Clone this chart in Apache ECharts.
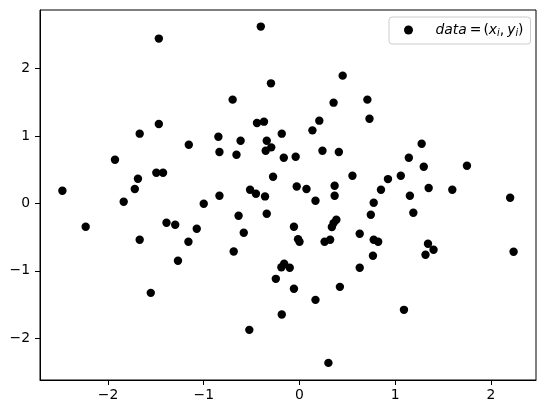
<!DOCTYPE html>
<html>
<head>
<meta charset="utf-8">
<script src="https://cdn.jsdelivr.net/npm/echarts@6/dist/echarts.min.js"></script>
<style>
html,body{margin:0;padding:0;background:#fff;}
#chart{width:546px;height:413px;}
</style>
</head>
<body>
<div id="chart"></div>
<script>
const xValues = [-2.476,-2.233,-1.927,-1.836,-1.72,-1.687,-1.669,-1.669,-1.553,-1.469,
  -1.469,-1.495,-1.425,-1.389,-1.298,-1.269,-1.156,-1.16,-1.073,-1.0,
  -0.847,-0.836,-0.836,-0.698,-0.658,-0.615,-0.636,-0.582,-0.687,-0.516,
  -0.455,-0.524,-0.444,-0.371,-0.404,-0.342,-0.353,-0.295,-0.298,-0.36,
  -0.342,-0.276,-0.185,-0.164,-0.247,-0.189,-0.16,-0.102,-0.185,-0.058,
  -0.04,-0.029,-0.015,0.0,-0.058,0.073,0.135,0.207,0.167,0.167,
  0.24,0.262,0.32,0.302,0.356,0.451,0.411,0.367,0.367,0.385,
  0.356,0.338,0.422,0.553,0.629,0.629,0.709,0.731,0.745,0.775,
  0.775,0.822,0.767,0.851,0.924,1.058,1.142,1.153,1.189,1.091,
  1.276,1.298,1.349,1.342,1.4,1.316,1.596,1.749,2.2,2.236];
const yValues = [0.188,-0.347,0.649,0.025,0.213,0.366,1.035,-0.54,-1.327,2.446,
  1.178,0.455,0.455,-0.287,-0.317,-0.851,0.871,-0.569,-0.376,-0.005,
  0.99,0.762,0.114,1.54,0.723,0.931,-0.183,-0.436,-0.713,0.203,
  0.144,-1.876,1.193,1.213,2.624,0.931,0.782,0.832,1.782,0.104,
  -0.153,0.396,1.035,0.678,-1.119,-0.946,-0.896,-0.955,-1.649,-0.347,
  0.693,0.252,-0.53,-0.569,-1.267,0.213,1.084,1.228,0.04,-1.431,
  0.782,-0.569,-0.54,-2.366,1.495,1.896,0.762,0.262,0.114,-0.243,
  -0.292,-0.351,-1.238,0.411,-0.45,-0.955,1.54,1.257,-0.168,0.01,
  -0.54,-0.569,-0.777,0.203,0.361,0.411,0.678,0.114,-0.139,-1.579,
  0.886,0.545,0.228,-0.599,-0.688,-0.762,0.203,0.559,0.084,-0.718];
const xTicks = [-2,-1,0,1,2];
const yTicks = [-2,-1,0,1,2];
const seriesName = 'data';

const points = xValues.map((x,i)=>[x,yValues[i]]);
const fmt = v => String(v).replace('-','\u2212');
const FONT = 'DejaVu Sans';

function axisCommon(ticks){
  return {
    type:'value',
    axisLine:{show:true,onZero:false,lineStyle:{color:'#000',width:1}},
    splitLine:{show:false},
    axisTick:{show:true,length:5,lineStyle:{color:'#000',width:1},customValues:ticks},
    axisLabel:{customValues:ticks,formatter:fmt,color:'#000',fontSize:13.9,fontFamily:FONT}
  };
}
const xAxis = axisCommon(xTicks);
xAxis.min = -2.71; xAxis.max = 2.47; xAxis.axisLabel.margin = 8;
const yAxis = axisCommon(yTicks);
yAxis.min = -2.62; yAxis.max = 2.87; yAxis.axisLabel.margin = 10;

const chart = echarts.init(document.getElementById('chart'));
chart.setOption({
  animation:false,
  backgroundColor:'#fff',
  grid:{left:40,right:10,top:10,bottom:33,show:true,borderColor:'#000',borderWidth:1,backgroundColor:'transparent'},
  xAxis:xAxis,
  yAxis:yAxis,
  legend:{
    left:389,top:17,
    padding:[6,7,6,15],
    itemWidth:20,itemHeight:9,
    icon:'circle',
    borderColor:'#cccccc',borderWidth:1,borderRadius:3,
    backgroundColor:'rgba(255,255,255,0.8)',
    formatter:function(){return '{it|data}{eq|=}({it|x}{sub|i},{it2|y}{sub|i})';},
    textStyle:{
      fontFamily:FONT,fontSize:13.9,color:'#000',padding:[0,0,0,12],
      rich:{
        it:{fontFamily:FONT,fontSize:13.9,fontStyle:'italic',color:'#000'},
        it2:{fontFamily:FONT,fontSize:13.9,fontStyle:'italic',color:'#000',padding:[0,0,0,3]},
        eq:{fontFamily:FONT,fontSize:13.9,color:'#000',padding:[0,2,0,3]},
        sub:{fontFamily:FONT,fontSize:9.7,fontStyle:'italic',color:'#000',padding:[6,0,0,0]}
      }
    },
    data:[seriesName]
  },
  series:[{
    name:seriesName,
    type:'scatter',
    data:points,
    symbol:'circle',
    symbolSize:8.4,
    itemStyle:{color:'#000',opacity:1}
  }]
});
</script>
</body>
</html>
